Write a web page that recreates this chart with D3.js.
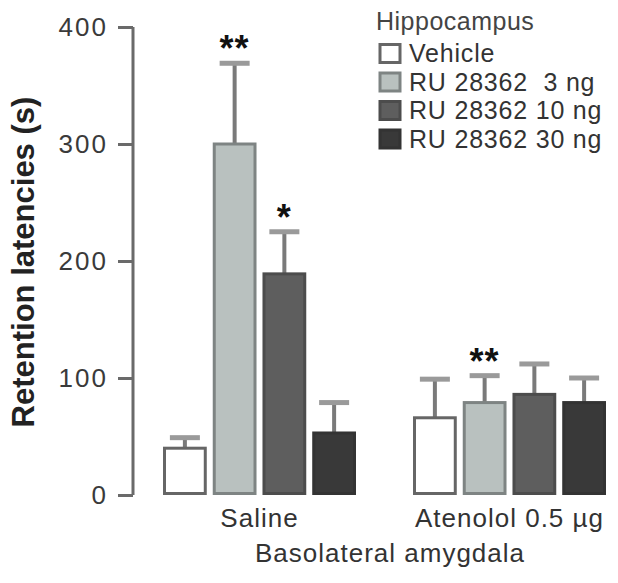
<!DOCTYPE html>
<html>
<head>
<meta charset="utf-8">
<script src="https://cdn.jsdelivr.net/npm/d3@7"></script>
<style>
  body { margin: 0; background: #fff; }
  text { font-family: "Liberation Sans", Arial, sans-serif; }
</style>
</head>
<body>
<svg id="chart" width="618" height="583"></svg>
<script>
// data
const groups = ["Saline", "Atenolol 0.5 µg"];
const series = ["Vehicle", "RU 28362  3 ng", "RU 28362 10 ng", "RU 28362 30 ng"];
const salineMeans = [40, 300, 189, 53];
const salineErr = [49, 369, 225, 79];
const atenololMeans = [66, 79, 86, 79];
const atenololErr = [99, 102, 112, 100];
const stars = [["", "**", "*", ""], ["", "**", "", ""]];
const yTicks = [0, 100, 200, 300, 400];

const fills = ["#ffffff", "#b9c1bf", "#5e5e5e", "#393939"];
const strokes = ["#666666", "#7e8483", "#4c4c4c", "#333333"];

let svg = d3.select("#chart");

let y = d3.scaleLinear().domain([0, 400]).range([495, 27]);

let x0 = d3.scaleBand()
    .domain(groups)
    .range([163, 606])
    .paddingInner(0.228)
    .paddingOuter(0);

let x1 = d3.scaleBand()
    .domain(series)
    .range([0, x0.bandwidth()])
    .paddingInner(0.12)
    .paddingOuter(0);

let rows = [];
groups.forEach((g, gi) => {
    let means = gi === 0 ? salineMeans : atenololMeans;
    let errs = gi === 0 ? salineErr : atenololErr;
    series.forEach((s, si) => {
        rows.push({group: g, series: s, si: si, mean: means[si], err: errs[si], star: stars[gi][si]});
    });
});

//y axis
let yAxis = svg.append("g")
    .attr("transform", "translate(133,0)")
    .call(d3.axisLeft(y).tickValues(yTicks).tickSize(15).tickPadding(10));

yAxis.select(".domain")
    .attr("d", "M0," + y(400) + "V" + y(0))
    .attr("stroke", "#6a6a6a")
    .attr("stroke-width", 3);

yAxis.selectAll(".tick line")
    .attr("stroke", "#6a6a6a")
    .attr("stroke-width", 3);

yAxis.selectAll(".tick text")
    .attr("fill", "#3a3a3a")
    .style("font-size", "26px")
    .style("letter-spacing", "2px")
    .style("font-family", "'Liberation Sans', Arial, sans-serif");

//error bars
let eb = svg.append("g").selectAll("g")
    .data(rows)
    .enter().append("g");

eb.append("line")
    .attr("x1", (d) => x0(d.group) + x1(d.series) + x1.bandwidth() / 2)
    .attr("x2", (d) => x0(d.group) + x1(d.series) + x1.bandwidth() / 2)
    .attr("y1", (d) => y(d.mean))
    .attr("y2", (d) => y(d.err))
    .attr("stroke", "#7a7a7a")
    .attr("stroke-width", 4);

eb.append("line")
    .attr("x1", (d) => x0(d.group) + x1(d.series) + x1.bandwidth() / 2 - 15)
    .attr("x2", (d) => x0(d.group) + x1(d.series) + x1.bandwidth() / 2 + 15)
    .attr("y1", (d) => y(d.err))
    .attr("y2", (d) => y(d.err))
    .attr("stroke", "#9a9a9a")
    .attr("stroke-width", 5);

//bars
svg.append("g").selectAll("rect")
    .data(rows)
    .enter().append("rect")
    .attr("x", (d) => x0(d.group) + x1(d.series) + 1.5)
    .attr("y", (d) => y(d.mean))
    .attr("width", x1.bandwidth() - 3)
    .attr("height", (d) => y(0) - y(d.mean) - 1.5)
    .attr("fill", (d) => fills[d.si])
    .attr("stroke", (d) => strokes[d.si])
    .attr("stroke-width", 3);

//significance stars
svg.append("g").selectAll("text")
    .data(rows.filter((d) => d.star))
    .enter().append("text")
    .attr("x", (d) => x0(d.group) + x1(d.series) + x1.bandwidth() / 2)
    .attr("y", (d) => y(d.err) - 2)
    .attr("text-anchor", "middle")
    .attr("fill", "#111")
    .style("font-size", "36px")
    .style("font-weight", "bold")
    .style("letter-spacing", "1px")
    .text((d) => d.star);

//group labels
svg.append("g").selectAll("text")
    .data(groups)
    .enter().append("text")
    .attr("x", (d) => x0(d) + x0.bandwidth() / 2)
    .attr("y", 527)
    .attr("text-anchor", "middle")
    .attr("fill", "#333")
    .style("font-size", "26px")
    .style("letter-spacing", "1px")
    .text((d) => d);

svg.append("text")
    .attr("x", 390)
    .attr("y", 562)
    .attr("text-anchor", "middle")
    .attr("fill", "#333")
    .style("font-size", "26px")
    .style("letter-spacing", "1px")
    .text("Basolateral amygdala");

svg.append("text")
    .attr("transform", "translate(34,262) rotate(-90)")
    .attr("text-anchor", "middle")
    .attr("fill", "#222")
    .style("font-size", "31px")
    .style("font-weight", "bold")
    .text("Retention latencies (s)");

//legend
let legend = svg.append("g").attr("transform", "translate(376,0)");

legend.append("text")
    .attr("x", 0)
    .attr("y", 30)
    .attr("fill", "#444")
    .style("font-size", "25px")
    .style("letter-spacing", "0.5px")
    .text("Hippocampus");

let items = legend.selectAll(".item")
    .data(series)
    .enter().append("g")
    .attr("class", "item")
    .attr("transform", (d, i) => "translate(0," + (43 + i * 28.5) + ")");

items.append("rect")
    .attr("x", 4)
    .attr("y", 1.5)
    .attr("width", 20)
    .attr("height", 18)
    .attr("fill", (d, i) => fills[i])
    .attr("stroke", (d, i) => strokes[i])
    .attr("stroke-width", 3);

items.append("text")
    .attr("x", 33)
    .attr("y", 19)
    .attr("fill", "#333")
    .style("font-size", "25px")
    .style("letter-spacing", "0.8px")
    .attr("xml:space", "preserve")
    .text((d) => d);
</script>
</body>
</html>
